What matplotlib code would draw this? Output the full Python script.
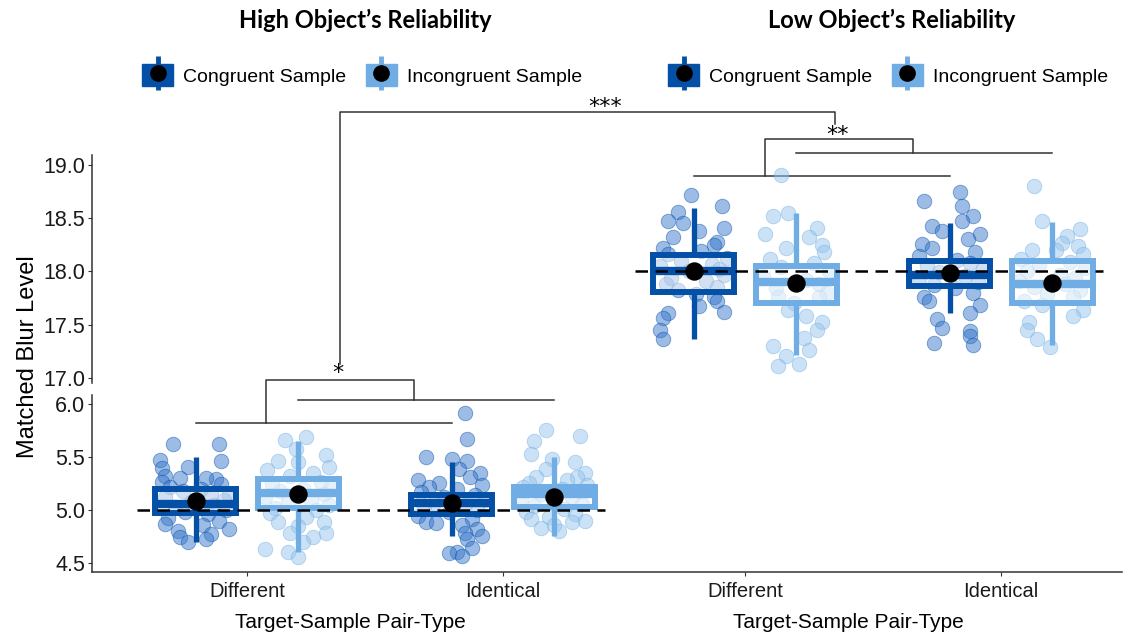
import matplotlib.pyplot as plt
from matplotlib.lines import Line2D
from matplotlib.patches import Patch
from matplotlib.legend_handler import HandlerTuple

plt.rcParams["font.family"] = ["Liberation Sans", "DejaVu Sans"]

pair_types = ["Different", "Identical"]
samples = ["Congruent Sample", "Incongruent Sample"]
panel_titles = ["High Object\u2019s Reliability", "Low Object\u2019s Reliability"]
reference_levels = [5.0, 18.0]

# box stats per pair type: whisker low, q1, median, q3, whisker high
high_cong_box = [[4.70, 4.97, 5.06, 5.20, 5.50], [4.76, 4.96, 5.07, 5.14, 5.45]]
high_incong_box = [[4.61, 5.02, 5.16, 5.29, 5.65], [4.76, 5.03, 5.15, 5.22, 5.50]]
low_cong_box = [[17.36, 17.81, 18.00, 18.15, 18.60], [17.61, 17.86, 17.97, 18.10, 18.45]]
low_incong_box = [[17.21, 17.70, 17.90, 18.05, 18.55], [17.31, 17.70, 17.88, 18.10, 18.46]]

high_cong_mean = [5.09, 5.07]
high_incong_mean = [5.15, 5.12]
low_cong_mean = [18.00, 17.98]
low_incong_mean = [17.89, 17.89]

# participant points (value, horizontal jitter)
high_diff_cong_y = [5.62, 5.62, 5.47, 5.46, 5.41, 5.40, 5.32, 5.30, 5.29, 5.30, 5.27, 5.25, 5.22, 5.20, 5.18,
                    5.15, 5.14, 5.12, 5.10, 5.08, 5.05, 5.03, 5.00, 4.98, 4.96, 4.93, 4.90, 4.87, 4.86, 4.82,
                    4.80, 4.78, 4.75, 4.73, 4.70]
high_diff_cong_dx = [-0.09, 0.09, -0.14, 0.10, -0.03, -0.13, -0.12, -0.06, 0.08, 0.04, -0.13, 0.10, -0.10, 0.02,
                     -0.05, 0.06, 0.13, -0.12, 0.11, -0.02, 0.07, -0.08, 0.12, -0.04, 0.05, -0.11, 0.09, -0.12,
                     0.03, 0.13, -0.07, 0.06, -0.06, 0.04, -0.03]
high_diff_incong_y = [5.69, 5.66, 5.58, 5.52, 5.46, 5.45, 5.41, 5.38, 5.35, 5.32, 5.27, 5.25, 5.22, 5.20, 5.18,
                      5.15, 5.12, 5.10, 5.08, 5.05, 5.02, 5.00, 4.97, 4.94, 4.89, 4.89, 4.85, 4.79, 4.79, 4.75,
                      4.70, 4.63, 4.61, 4.56]
high_diff_incong_dx = [0.03, -0.05, -0.01, 0.11, -0.08, 0.00, 0.12, -0.12, 0.06, -0.03, 0.09, -0.10, 0.13, 0.02,
                       -0.07, 0.10, -0.13, 0.05, -0.04, 0.12, -0.09, 0.07, -0.11, 0.03, -0.08, 0.10, 0.00, -0.03,
                       0.11, 0.06, 0.02, -0.13, -0.04, 0.00]
high_ident_cong_y = [5.92, 5.67, 5.50, 5.48, 5.46, 5.39, 5.35, 5.31, 5.28, 5.26, 5.24, 5.22, 5.20, 5.17, 5.14,
                     5.12, 5.10, 5.07, 5.05, 5.03, 5.00, 4.98, 4.95, 4.92, 4.89, 4.88, 4.86, 4.82, 4.79, 4.76,
                     4.73, 4.64, 4.61, 4.60, 4.57]
high_ident_cong_dx = [0.05, 0.06, -0.10, 0.00, 0.06, 0.03, 0.11, 0.07, -0.13, -0.05, 0.12, -0.09, 0.02, -0.12,
                      0.09, -0.03, 0.13, -0.07, 0.05, -0.11, 0.10, -0.01, -0.13, 0.08, -0.10, -0.06, 0.04, 0.10,
                      0.05, 0.12, 0.06, 0.08, 0.02, -0.01, 0.04]
high_ident_incong_y = [5.76, 5.70, 5.65, 5.53, 5.48, 5.45, 5.39, 5.35, 5.31, 5.31, 5.28, 5.26, 5.24, 5.22, 5.20,
                       5.18, 5.15, 5.12, 5.10, 5.08, 5.06, 5.04, 5.01, 4.98, 4.96, 4.94, 4.92, 4.90, 4.89, 4.86,
                       4.83, 4.80]
high_ident_incong_dx = [-0.03, 0.10, -0.08, -0.09, -0.01, 0.08, -0.03, 0.12, -0.07, 0.09, 0.05, -0.10, 0.13, -0.12,
                        0.03, 0.10, -0.05, 0.07, -0.13, 0.00, 0.11, -0.08, 0.04, -0.11, 0.08, -0.02, -0.09, 0.12,
                        0.07, 0.00, -0.05, 0.02]
low_diff_cong_y = [18.72, 18.61, 18.56, 18.47, 18.45, 18.41, 18.38, 18.32, 18.28, 18.25, 18.22, 18.19, 18.16,
                   18.13, 18.10, 18.07, 18.05, 18.02, 18.00, 17.97, 17.94, 17.91, 17.88, 17.85, 17.82, 17.79,
                   17.76, 17.72, 17.67, 17.62, 17.61, 17.56, 17.45, 17.36]
low_diff_cong_dx = [-0.01, 0.11, -0.06, -0.10, -0.04, 0.12, 0.02, -0.08, 0.09, 0.08, -0.12, 0.03, -0.10, 0.13,
                    -0.05, 0.07, -0.13, 0.10, -0.02, 0.12, -0.09, 0.05, -0.11, 0.09, -0.06, 0.01, 0.08, 0.09,
                    0.02, 0.12, -0.10, -0.12, -0.13, -0.12]
low_diff_incong_y = [18.91, 18.55, 18.52, 18.41, 18.35, 18.32, 18.25, 18.22, 18.18, 18.12, 18.08, 18.04, 18.00,
                     17.96, 17.92, 17.88, 17.84, 17.80, 17.76, 17.76, 17.70, 17.64, 17.58, 17.52, 17.45, 17.37,
                     17.30, 17.26, 17.20, 17.11, 17.13]
low_diff_incong_dx = [-0.06, -0.03, -0.09, 0.08, -0.12, 0.05, 0.10, -0.04, 0.11, -0.10, 0.07, -0.06, 0.13, -0.13,
                      0.04, 0.09, -0.08, 0.12, -0.07, 0.09, -0.01, -0.03, 0.04, 0.10, 0.08, 0.03, -0.09, 0.05,
                      -0.04, -0.07, 0.01]
low_ident_cong_y = [18.75, 18.66, 18.61, 18.52, 18.47, 18.43, 18.38, 18.35, 18.30, 18.26, 18.22, 18.18, 18.14,
                    18.11, 18.08, 18.05, 18.02, 17.99, 17.96, 17.93, 17.90, 17.87, 17.84, 17.80, 17.76, 17.72,
                    17.68, 17.61, 17.55, 17.47, 17.44, 17.39, 17.33, 17.31]
low_ident_cong_dx = [0.04, -0.10, 0.05, 0.09, 0.05, -0.07, -0.03, 0.12, 0.07, -0.11, -0.07, 0.10, -0.12, 0.03,
                     0.08, -0.09, 0.13, -0.04, 0.06, -0.12, 0.11, -0.06, 0.02, 0.09, -0.10, -0.08, 0.12, 0.08,
                     -0.05, -0.03, 0.08, 0.08, -0.06, 0.09]
low_ident_incong_y = [18.80, 18.47, 18.40, 18.33, 18.27, 18.24, 18.20, 18.20, 18.16, 18.12, 18.09, 18.06, 18.03,
                      18.00, 17.97, 17.94, 17.91, 17.88, 17.85, 17.82, 17.79, 17.76, 17.72, 17.68, 17.64, 17.58,
                      17.52, 17.45, 17.36, 17.29]
low_ident_incong_dx = [-0.07, -0.04, 0.11, 0.06, 0.04, 0.10, -0.08, 0.015, 0.12, -0.12, 0.07, -0.05, 0.13, -0.10,
                       0.03, 0.09, -0.13, 0.05, -0.07, 0.11, -0.02, 0.08, -0.11, -0.04, 0.12, 0.08, -0.09, -0.10,
                       -0.06, -0.01]

# * colores
box_colors = ["#0450A6", "#6FADE4"]
point_colors = ["#3A78CC", "#98C6EE"]
line_gray = "#333333"

# * posiciones
panel_offset = [0.0, 1.945]
dodge = 0.2
box_width = 0.316


def draw_panel(ax, offset, cong_box, incong_box, cong_mean, incong_mean, points, level):
    # * puntos de participantes
    for i, (ys, dxs) in enumerate(points):
        k = i % 2
        center = offset + i // 2 + (-dodge if k == 0 else dodge)
        ax.scatter([center + d for d in dxs], ys, s=110, color=point_colors[k],
                   alpha=0.5, edgecolors=box_colors[k], linewidths=0.6, zorder=2)
    # * cajas y medias
    for box, mean, shift, k in [(cong_box, cong_mean, -dodge, 0), (incong_box, incong_mean, dodge, 1)]:
        stats = []
        for b in box:
            stats.append(dict(whislo=b[0], q1=b[1], med=b[2], q3=b[3], whishi=b[4], fliers=[]))
        pos = [offset + j + shift for j in range(len(box))]
        ax.bxp(stats, positions=pos, widths=box_width, patch_artist=True, showcaps=False,
               showfliers=False, manage_ticks=False, zorder=3,
               boxprops=dict(facecolor=(1, 1, 1, 0.55), edgecolor=box_colors[k], linewidth=4.3),
               whiskerprops=dict(color=box_colors[k], linewidth=3.8, solid_capstyle="butt"),
               medianprops=dict(color=box_colors[k], linewidth=6, solid_capstyle="butt"))
        ax.scatter(pos, mean, s=150, color="black", zorder=6)
    ax.plot([offset - 0.43, offset + 1.40], [level, level], color="black", lw=1.8,
            dashes=(5, 3), zorder=4)


def bracket(ax, xs, ys):
    ax.plot(xs, ys, color=line_gray, lw=1.1, clip_on=False, zorder=1)


def stars(ax, x, y, label):
    ax.text(x, y, label, ha="center", va="baseline", fontsize=16, family="DejaVu Sans", zorder=5)


fig = plt.figure(figsize=(11.24, 6.38), dpi=100)
ax_bot = fig.add_axes([92 / 1124, 1 - 572 / 638, 1030 / 1124, 177 / 638])
ax_top = fig.add_axes([92 / 1124, 1 - 383 / 638, 1030 / 1124, 228 / 638])

xlim = (-0.605, 3.418)
for ax in (ax_bot, ax_top):
    ax.patch.set_visible(False)
    for s in ("top", "right"):
        ax.spines[s].set_visible(False)
    ax.spines["left"].set_color(line_gray)
    ax.spines["left"].set_linewidth(1.1)
    ax.tick_params(axis="y", labelsize=15.5, length=3, color=line_gray, labelcolor="#1a1a1a", pad=2)
ax_top.spines["bottom"].set_visible(False)
ax_top.set_xticks([])
ax_bot.spines["bottom"].set_color(line_gray)
ax_bot.spines["bottom"].set_linewidth(1.1)

draw_panel(ax_bot, panel_offset[0], high_cong_box, high_incong_box, high_cong_mean, high_incong_mean,
           [(high_diff_cong_y, high_diff_cong_dx), (high_diff_incong_y, high_diff_incong_dx),
            (high_ident_cong_y, high_ident_cong_dx), (high_ident_incong_y, high_ident_incong_dx)],
           reference_levels[0])
draw_panel(ax_top, panel_offset[1], low_cong_box, low_incong_box, low_cong_mean, low_incong_mean,
           [(low_diff_cong_y, low_diff_cong_dx), (low_diff_incong_y, low_diff_incong_dx),
            (low_ident_cong_y, low_ident_cong_dx), (low_ident_incong_y, low_ident_incong_dx)],
           reference_levels[1])

ax_bot.set_xlim(*xlim)
ax_top.set_xlim(*xlim)
ax_bot.set_ylim(4.418, 6.085)
ax_bot.set_yticks([4.5, 5.0, 5.5, 6.0])
ax_bot.set_yticklabels(["4.5", "5.0", "5.5", "6.0"])
ax_top.set_ylim(16.95, 19.094)
ax_top.set_yticks([17.0, 17.5, 18.0, 18.5, 19.0])
ax_top.set_yticklabels(["17.0", "17.5", "18.0", "18.5", "19.0"])

tick_pos = [panel_offset[p] + j for p in range(2) for j in range(2)]
ax_bot.set_xticks(tick_pos)
ax_bot.set_xticklabels(pair_types * 2)
ax_bot.tick_params(axis="x", labelsize=14.5, length=3, color=line_gray, labelcolor="#1a1a1a", pad=4)

# * comparaciones: panel alto (abajo)
o = panel_offset[0]
bracket(ax_bot, [o - dodge, o + 1 - dodge], [5.82, 5.82])
bracket(ax_bot, [o + dodge, o + 1 + dodge], [6.036, 6.036])
bracket(ax_bot, [o + 0.074, o + 0.074, o + 0.652, o + 0.652], [5.82, 6.23, 6.23, 6.036])
stars(ax_bot, o + 0.355, 6.235, "*")

# * comparaciones: panel bajo (arriba)
o = panel_offset[1]
bracket(ax_top, [o - dodge, o + 1 - dodge], [18.90, 18.90])
bracket(ax_top, [o + dodge, o + 1 + dodge], [19.11, 19.11])
bracket(ax_top, [o + 0.078, o + 0.078, o + 0.657, o + 0.657], [18.90, 19.24, 19.24, 19.11])
stars(ax_top, o + 0.36, 19.225, "**")

# * entre paneles
bracket(ax_top, [0.363, 0.363, o + 0.352, o + 0.352], [17.13, 19.50, 19.50, 19.39])
stars(ax_top, 1.40, 19.485, "***")

# * titulos y leyendas
for x, title in zip([365, 892], panel_titles):
    fig.text(x / 1124, 1 - 20 / 638, title, ha="center", va="center", fontsize=17,
             fontweight="bold", family="Lato")

handles = []
for k in range(2):
    handles.append((Line2D([], [], color=box_colors[k], marker="|", markersize=25, markeredgewidth=3.5,
                           linestyle=""),
                    Patch(facecolor=box_colors[k], edgecolor=box_colors[k], linewidth=1),
                    Line2D([], [], marker="o", color="black", markersize=11, linestyle="")))
for x in [362, 888]:
    fig.legend(handles=handles, labels=samples, loc="center", bbox_to_anchor=(x / 1124, 1 - 75 / 638),
               ncol=2, frameon=False, fontsize=14, handler_map={tuple: HandlerTuple(ndivide=1, pad=0)},
               handlelength=1.6, handleheight=1.3, handletextpad=0.5, columnspacing=1.0)

for x in [350, 848]:
    fig.text(x / 1124, 1 - 623 / 638, "Target-Sample Pair-Type", ha="center", va="center", fontsize=15)
fig.text(28 / 1124, 1 - 357 / 638, "Matched Blur Level", ha="center", va="center", rotation=90, fontsize=17)

plt.savefig("out.png", dpi=100, facecolor="white")
